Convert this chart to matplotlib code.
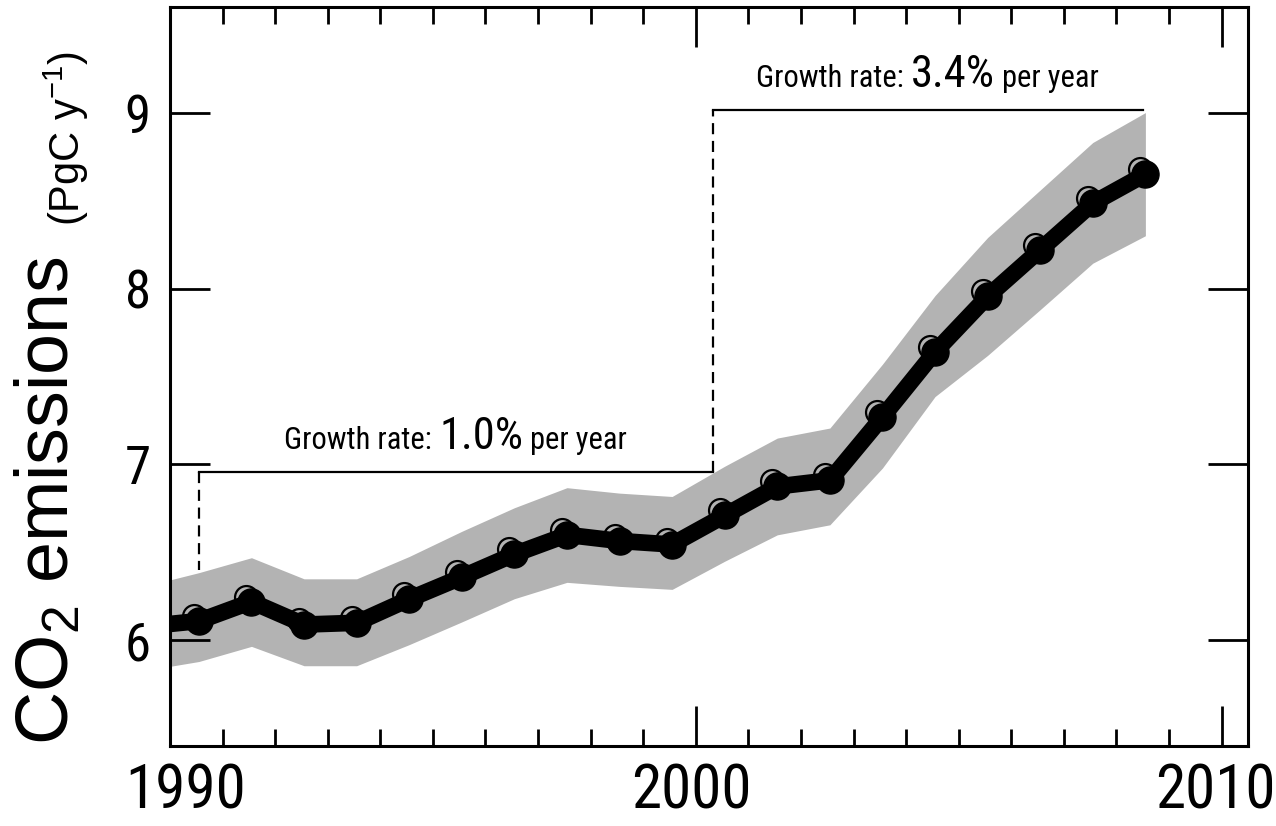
import numpy as np
import matplotlib
matplotlib.use('Agg')
import matplotlib.pyplot as plt
import matplotlib.transforms as mtransforms
from matplotlib import font_manager
from matplotlib.offsetbox import TextArea, HPacker, AnnotationBbox

# pick the narrowest sans family that is installed
names = set(f.name for f in font_manager.fontManager.ttflist)
family = 'Liberation Sans'
for cand in ['Liberation Sans Narrow', 'Roboto Condensed', 'Open Sans Condensed', 'Liberation Sans']:
    if cand in names:
        family = cand
        break
plt.rcParams['font.family'] = [family, 'DejaVu Sans']

# data (mid-year points)
years = np.arange(1989, 2009) + 0.55
emissions = [6.08, 6.11, 6.22, 6.09, 6.10, 6.235, 6.36, 6.49, 6.60, 6.565,
             6.545, 6.71, 6.875, 6.91, 7.27, 7.64, 7.955, 8.22, 8.485, 8.65]
upper = [6.31, 6.385, 6.47, 6.35, 6.35, 6.477, 6.62, 6.754, 6.868, 6.837,
         6.818, 6.99, 7.15, 7.207, 7.57, 7.96, 8.29, 8.56, 8.83, 9.00]
lower = [5.83, 5.88, 5.966, 5.856, 5.856, 5.976, 6.105, 6.237, 6.33, 6.307,
         6.29, 6.45, 6.60, 6.657, 6.98, 7.386, 7.62, 7.88, 8.144, 8.30]

# growth-rate brackets
period1 = (1990.55, 2000.32)
period2 = (2000.32, 2008.5)
level1 = 6.955
level2 = 9.015
rate1 = '1.0%'
rate2 = '3.4%'

fig = plt.figure(figsize=(12.76, 8.26), dpi=100)
ax = fig.add_axes([0.1332, 0.0969, 0.8448, 0.8946])

ax.fill_between(years, lower, upper, color='#b3b3b3', lw=0, zorder=1)

# open circles sit slightly up-left of the thick black line
shift = mtransforms.offset_copy(ax.transData, fig=fig, x=-5, y=5, units='dots')
ax.plot(years[1:], emissions[1:], 'o', ms=16.5, mfc='#b3b3b3', mec='black', mew=1.6,
        transform=shift, zorder=2, clip_on=False)
ax.plot(years, emissions, '-o', color='black', lw=12, ms=19.5, solid_joinstyle='round',
        solid_capstyle='butt', zorder=3)

# brackets
ax.plot(period1, [level1, level1], color='black', lw=1.6, zorder=4)
ax.plot([period1[0], period1[0]], [level1, 6.40], color='black', lw=1.6, ls=(0, (5, 3)), zorder=4)
ax.plot([period2[0], period2[0]], [level1, level2], color='black', lw=1.6, ls=(0, (5, 3)), zorder=4)
ax.plot(period2, [level2, level2], color='black', lw=1.6, zorder=4)


def rate_label(x, y, rate):
    parts = [TextArea('Growth rate: ', textprops=dict(size=22)),
             TextArea(rate, textprops=dict(size=32)),
             TextArea(' per year', textprops=dict(size=22))]
    box = HPacker(children=parts, align='baseline', pad=0, sep=0)
    ab = AnnotationBbox(box, (x, y), xycoords='data', frameon=False,
                        box_alignment=(0.5, 0.0), pad=0)
    ax.add_artist(ab)


rate_label(np.mean(period1), level1 + 0.08, rate1)
rate_label(np.mean(period2), level2 + 0.08, rate2)

ax.set_xlim(1990, 2010.5)
ax.set_ylim(5.4, 9.6)
ax.set_xticks([1990, 2000, 2010])
ax.set_xticks(np.arange(1991, 2011), minor=True)
ax.set_yticks([6, 7, 8, 9])

for s in ax.spines.values():
    s.set_linewidth(2.2)
ax.tick_params(axis='both', which='major', direction='in', length=29, width=2.0,
               top=True, right=True)
ax.tick_params(axis='x', which='minor', direction='in', length=12, width=2.0, top=True)
ax.tick_params(axis='x', which='major', labelsize=44, pad=12)
ax.tick_params(axis='y', which='major', labelsize=38, pad=14)

# year labels nudged so the end ones stay inside the picture
for lab, dx in zip(ax.get_xticklabels(), [16, -4, -6]):
    lab.set_transform(lab.get_transform() + mtransforms.Affine2D().translate(dx, 0))

# y label in two sizes, written bottom to top, regular-width sans
label_font = ['Liberation Sans', 'DejaVu Sans']
plt.rcParams['mathtext.fontset'] = 'custom'
plt.rcParams['mathtext.rm'] = 'Liberation Sans'
plt.rcParams['mathtext.it'] = 'Liberation Sans'
plt.rcParams['mathtext.default'] = 'rm'
fig.text(68 / 1276, 1 - 745 / 826, 'CO$_2$ emissions', rotation=90, size=53,
         family=label_font, rotation_mode='anchor', ha='left', va='baseline')
fig.text(80 / 1276, 1 - 226 / 826, '(PgC y$^{-1}$)', rotation=90, size=30,
         family=label_font, rotation_mode='anchor', ha='left', va='baseline')

fig.savefig('out.png', dpi=100)
